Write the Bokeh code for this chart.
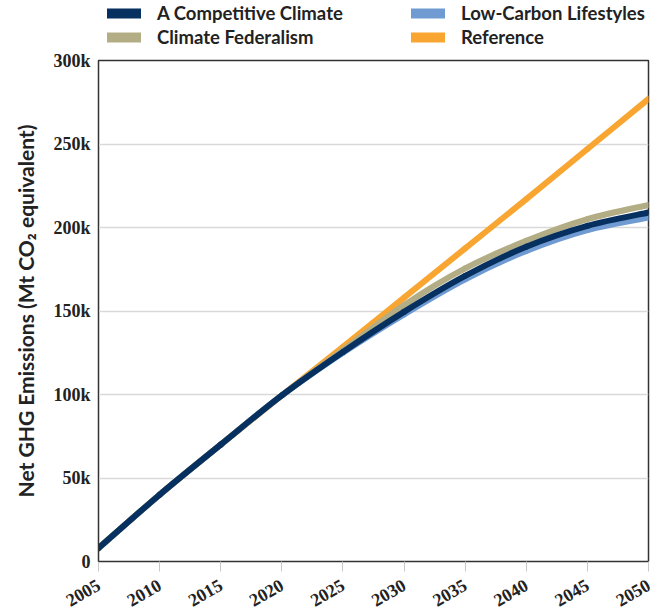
import numpy as np
from bokeh.plotting import figure
from bokeh.models import Range1d, FixedTicker, Legend, LegendItem
from bokeh.layouts import column
from bokeh.embed import file_html
from bokeh.resources import INLINE

years = [2005, 2010, 2015, 2020, 2025, 2030, 2035, 2040, 2045, 2050]
competitive = [8000, 40000, 70000, 99500, 125500, 149500, 171000, 188500, 201000, 209000]
low_carbon = [8000, 40000, 70000, 99500, 125000, 148000, 169000, 186000, 198500, 206000]
federalism = [8000, 40000, 70000, 99500, 126500, 153500, 175500, 192000, 205000, 213500]
reference = [8000, 40000, 70000, 99500, 128500, 158000, 187500, 217000, 247000, 277000]

series_names = ["A Competitive Climate", "Climate Federalism", "Low-Carbon Lifestyles", "Reference"]
series_colors = ["#06305f", "#b3ad85", "#6f9bd2", "#f9a531"]

x_ticks = [2005, 2010, 2015, 2020, 2025, 2030, 2035, 2040, 2045, 2050]
x_tick_labels = ["2005", "2010", "2015", "2020", "2025", "2030", "2035", "2040", "2045", "2050"]
y_ticks = [0, 50000, 100000, 150000, 200000, 250000, 300000]
y_tick_labels = ["0", "50k", "100k", "150k", "200k", "250k", "300k"]
y_title = "Net GHG Emissions (Mt CO\u2082 equivalent)"

data = {
    "A Competitive Climate": competitive,
    "Climate Federalism": federalism,
    "Low-Carbon Lifestyles": low_carbon,
    "Reference": reference,
}
color_of = dict(zip(series_names, series_colors))

# ---------------- main chart ----------------
p = figure(width=664, height=567, output_backend="svg", toolbar_location=None,
           x_range=Range1d(2005, 2050), y_range=Range1d(0, 300000),
           min_border_left=98, min_border_top=12, min_border_right=16, min_border_bottom=51)
p.background_fill_color = "white"
p.border_fill_color = "white"
p.outline_line_color = "#333333"
p.outline_line_width = 1.5

p.xgrid.grid_line_color = None
p.ygrid.grid_line_color = "#d9d9d9"
p.ygrid.grid_line_width = 1.5

p.xaxis.ticker = FixedTicker(ticks=x_ticks)
p.xaxis.major_label_overrides = {t: l for t, l in zip(x_ticks, x_tick_labels)}
p.xaxis.major_label_orientation = 0.52
p.xaxis.axis_line_color = "#333333"
p.xaxis.major_tick_out = 10
p.xaxis.major_tick_in = 0
p.xaxis.major_tick_line_color = "#c8c8c8"
p.xaxis.minor_tick_line_color = None
p.xaxis.major_label_standoff = 12
p.xaxis.major_label_text_font = "Liberation Serif"
p.xaxis.major_label_text_font_style = "bold"
p.xaxis.major_label_text_font_size = "18px"
p.xaxis.major_label_text_color = "#222222"

p.yaxis.ticker = FixedTicker(ticks=y_ticks)
p.yaxis.major_label_overrides = {t: l for t, l in zip(y_ticks, y_tick_labels)}
p.yaxis.axis_line_color = "#333333"
p.yaxis.major_tick_out = 0
p.yaxis.major_tick_in = 0
p.yaxis.minor_tick_line_color = None
p.yaxis.major_label_standoff = 8
p.yaxis.major_label_text_font = "Liberation Serif"
p.yaxis.major_label_text_font_style = "bold"
p.yaxis.major_label_text_font_size = "18px"
p.yaxis.major_label_text_color = "#222222"
p.yaxis.axis_label = y_title
p.yaxis.axis_label_text_font = "Lato"
p.yaxis.axis_label_text_font_style = "bold"
p.yaxis.axis_label_text_font_size = "21px"
p.yaxis.axis_label_text_color = "#222222"
p.yaxis.axis_label_standoff = 12


def smooth_segments(xs, ys):
    """Catmull-Rom style cubic Bezier segments through the given points."""
    x = np.asarray(xs, dtype=float)
    y = np.asarray(ys, dtype=float)
    xp = np.concatenate([[x[0]], x, [x[-1]]])
    yp = np.concatenate([[y[0]], y, [y[-1]]])
    n = len(x) - 1
    x0, y0 = x[:-1], y[:-1]
    x1, y1 = x[1:], y[1:]
    cx0 = x0 + (xp[2:n + 2] - xp[0:n]) / 6.0
    cy0 = y0 + (yp[2:n + 2] - yp[0:n]) / 6.0
    cx1 = x1 - (xp[3:n + 3] - xp[1:n + 1]) / 6.0
    cy1 = y1 - (yp[3:n + 3] - yp[1:n + 1]) / 6.0
    return dict(x0=x0.tolist(), y0=y0.tolist(), x1=x1.tolist(), y1=y1.tolist(),
                cx0=cx0.tolist(), cy0=cy0.tolist(), cx1=cx1.tolist(), cy1=cy1.tolist())


for name in ["Reference", "Low-Carbon Lifestyles", "Climate Federalism", "A Competitive Climate"]:
    s = smooth_segments(years, data[name])
    p.bezier(line_color=color_of[name], line_width=6, line_cap="round", **s)

# ---------------- legend strip ----------------
# (its frame is aligned with the chart frame by the column layout; the series
#  drawn here lie outside its 0..1 ranges, so only their legend swatches show)
lg = figure(width=664, height=48, output_backend="svg", toolbar_location=None,
            x_range=Range1d(0, 1), y_range=Range1d(0, 1),
            x_axis_location=None, y_axis_location=None, min_border=0)
lg.grid.visible = False
lg.outline_line_color = None
lg.background_fill_color = "white"
lg.border_fill_color = "white"

items = []
for name in ["A Competitive Climate", "Low-Carbon Lifestyles", "Climate Federalism", "Reference"]:
    r = lg.line(years, data[name], line_color=color_of[name], line_width=10, line_cap="round")
    items.append(LegendItem(label=name, renderers=[r]))

legend = Legend(items=items, location=(9, 0), orientation="horizontal", ncols=2,
                glyph_width=34, glyph_height=22, label_height=22, label_width=252,
                label_standoff=16, spacing=2, padding=0, margin=0,
                background_fill_alpha=0, border_line_color=None,
                label_text_font="Lato", label_text_font_style="bold",
                label_text_font_size="18.5px", label_text_color="#222222")
lg.add_layout(legend, "center")

layout = column(lg, p, spacing=0)
open("out.html", "w").write(file_html(layout, INLINE))
